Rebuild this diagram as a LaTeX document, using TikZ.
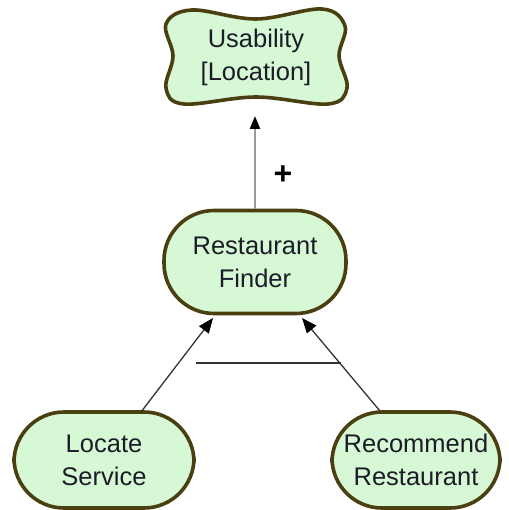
\documentclass[tikz,border=0pt]{standalone}
\usepackage{fontspec}
\setmainfont{Liberation Sans}
\usetikzlibrary{arrows.meta,calc}
\definecolor{goalfill}{HTML}{D6F8D4}
\definecolor{goalline}{HTML}{4A3F10}
\definecolor{txt}{HTML}{1C1C28}
\tikzset{
  goal/.style={draw=goalline, fill=goalfill, line width=3.6pt, rounded corners=50pt,
    align=center, text=txt, font=\fontsize{25.5}{33}\selectfont, inner sep=0pt},
  contrib/.style={draw=black!40, line width=2.4pt, -{Triangle[length=13pt,width=10pt,black]}},
  decomp/.style={draw=black!80, line width=1.3pt, -{Triangle[length=15pt,width=12pt,black]}},
  plain/.style={draw=black!80, line width=1.3pt}
}
\begin{document}
\begin{tikzpicture}[x=1pt,y=-1pt]
\useasboundingbox (0,0) rectangle (508,510);
% softgoal cloud
\draw[draw=goalline, fill=goalfill, line width=3.6pt]
  plot[smooth cycle, tension=0.6] coordinates {(192,10) (256,19) (322,9) (345,26) (339,56) (347,88) (328,104) (256,97) (184,104) (166,88) (173,56) (166,24)};
\node[text=txt, font=\fontsize{25.5}{33}\selectfont, align=center] (us) at (256,57) {Usability\\{}[Location]};
\coordinate (usb) at (255,102);
% goals
\node[goal, minimum width=182pt, minimum height=103pt] (rf) at (255,262) {Restaurant\\Finder};
\node[goal, minimum width=180pt, minimum height=96pt] (ls) at (104,460) {Locate\\Service};
\node[goal, minimum width=168pt, minimum height=96pt] (rr) at (416,460) {Recommend\\Restaurant};
% connectors
\draw[contrib, shorten >=14pt] (rf.north) -- (usb);
\node[font=\fontsize{32}{32}\selectfont\bfseries, text=black] (plus) at (283,175) {+};
\coordinate (ls1) at (141,412);
\coordinate (rf1) at (213,318);
\coordinate (rr1) at (380,411);
\coordinate (rf2) at (302,318);
\draw[decomp] (ls1) -- (rf1);
\draw[decomp] (rr1) -- (rf2);
\coordinate (h1) at (196,363);
\coordinate (h2) at (341,363);
\draw[plain] (h1) -- (h2);
\end{tikzpicture}
\end{document}
